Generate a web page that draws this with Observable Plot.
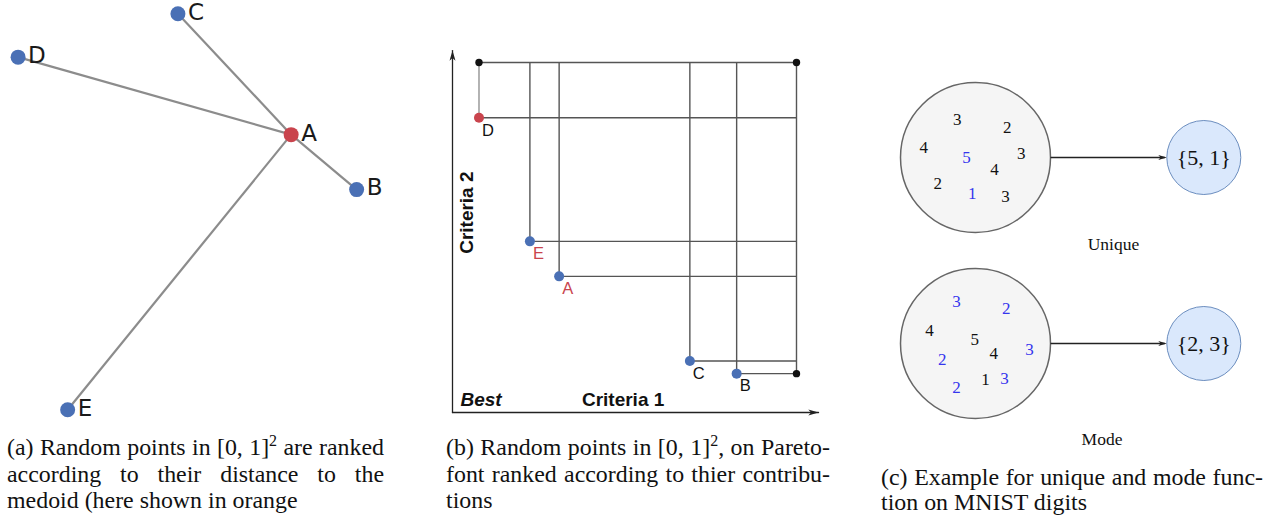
<!DOCTYPE html>
<html><head><meta charset="utf-8">
<script src="https://cdn.jsdelivr.net/npm/d3@7"></script>
<script src="https://cdn.jsdelivr.net/npm/@observablehq/plot@0.6"></script>
<style>
html,body{margin:0;padding:0;background:#fff;width:1278px;height:518px;overflow:hidden;position:relative}
.panel{position:absolute}
.cap{position:absolute;font-family:"Liberation Serif","Times New Roman",serif;font-size:23.9px;line-height:25.5px;color:#111}
.cap .j{text-align:justify;text-align-last:justify}
.cap .sup{font-size:16px;position:relative;top:-9px}
</style></head>
<body>
<div id="pa" class="panel" style="left:0;top:0"></div>
<div id="pb" class="panel" style="left:430px;top:40px"></div>
<div id="pc" class="panel" style="left:880px;top:70px"></div>
<div class="cap" style="left:7px;top:434.5px;width:377px">
  <div class="j">(a) Random points in [0, 1]<span class="sup">2</span> are ranked</div>
  <div class="j">according to their distance to the</div>
  <div>medoid (here shown in orange</div>
</div>
<div class="cap" style="left:446px;top:434.5px;width:384px">
  <div class="j">(b) Random points in [0, 1]<span class="sup">2</span>, on Pareto-</div>
  <div class="j">font ranked according to thier contribu-</div>
  <div>tions</div>
</div>
<div class="cap" style="left:881px;top:464.5px;width:382px">
  <div class="j">(c) Example for unique and mode func-</div>
  <div>tion on MNIST digits</div>
</div>
<script>
// ---------- Panel (a): points in [0,1]^2, medoid A ----------
const aNames = ["A", "B", "C", "D", "E"];
const aX = [0.772, 0.949, 0.466, 0.034, 0.168];
const aY = [0.685, 0.551, 0.980, 0.874, 0.014];
const aMedoid = "A";

// ---------- Panel (b): Pareto front, two criteria ----------
const bNames = ["D", "E", "A", "C", "B"];
const bCrit1 = [0.077, 0.225, 0.310, 0.690, 0.826];
const bCrit2 = [0.842, 0.489, 0.389, 0.147, 0.111];
const bRedDot = ["D"];
const bRedLabel = ["E", "A"];
const bAxisLabels = ["Best", "Criteria 1", "Criteria 2"];

// ---------- Panel (c): unique / mode on MNIST digits ----------
const cGroups = ["Unique", "Mode"];
const uniqueDigits = [3, 2, 4, 5, 3, 4, 2, 1, 3];
const uniqueResult = [5, 1];
const modeDigits = [3, 2, 4, 5, 4, 3, 2, 1, 3, 2];
const modeResult = [2, 3];

const BLUE = "#4a70b5", RED = "#c9444d";
const stealth = {draw(ctx, size) {
  const s = Math.sqrt(size / Math.PI);
  ctx.moveTo(0, 0); ctx.lineTo(0.5 * s, 1.7 * s); ctx.lineTo(0, 1.25 * s); ctx.lineTo(-0.5 * s, 1.7 * s); ctx.closePath();
}};

// Panel (a)
{
  const pts = aNames.map((n, i) => ({name: n, x: aX[i], y: aY[i]}));
  const m = pts.find(d => d.name === aMedoid);
  const others = pts.filter(d => d.name !== aMedoid);
  const p = Plot.plot({
    width: 400, height: 420,
    marginLeft: 5, marginRight: 25, marginTop: 5, marginBottom: 5,
    x: {domain: [0, 1], axis: null}, y: {domain: [0, 1], axis: null},
    style: {background: "transparent", overflow: "visible"},
    marks: [
      Plot.link(others, {x1: () => m.x, y1: () => m.y, x2: "x", y2: "y", stroke: "#8c8c8c", strokeWidth: 2.2}),
      Plot.dot(others, {x: "x", y: "y", r: 7.5, fill: BLUE}),
      Plot.dot([m], {x: "x", y: "y", r: 7.5, fill: RED}),
      Plot.text(pts, {x: "x", y: "y", text: "name", dx: 10, dy: -1.5, textAnchor: "start", lineAnchor: "middle",
        fontSize: 23, fontFamily: "DejaVu Sans", fill: "#1a1a1a"})
    ]
  });
  document.getElementById("pa").append(p);
}

// Panel (b)
{
  const pts = bNames.map((n, i) => ({name: n, x: bCrit1[i], y: bCrit2[i]}));
  const xmin = d3.min(bCrit1), ymin = d3.min(bCrit2);
  const frame = [{x: xmin, y: 1}, {x: 1, y: 1}, {x: 1, y: ymin}];
  const axY = [{x: 0, y: 0}, {x: 0, y: 1.034}];
  const axX = [{x: 0, y: 0}, {x: 1.064, y: 0}];
  const lab = {dx: 3, dy: 12.5, textAnchor: "start", lineAnchor: "middle", fontSize: 16.5, fontFamily: "Liberation Sans"};
  const p = Plot.plot({
    width: 400, height: 380,
    marginLeft: 22, marginRight: 34, marginTop: 22, marginBottom: 8,
    x: {domain: [0, 1], axis: null}, y: {domain: [0, 1], axis: null},
    style: {background: "transparent", overflow: "visible"},
    marks: [
      Plot.link(pts.filter(d => !bRedDot.includes(d.name)), {x1: "x", y1: "y", x2: "x", y2: 1, stroke: "#555", strokeWidth: 1.4}),
      Plot.link(pts.filter(d => bRedDot.includes(d.name)), {x1: "x", y1: "y", x2: "x", y2: 1, stroke: "#a0a0a0", strokeWidth: 1.6}),
      Plot.link(pts, {x1: "x", y1: "y", x2: 1, y2: "y", stroke: "#555", strokeWidth: 1.4}),
      Plot.line(frame, {x: "x", y: "y", stroke: "#555", strokeWidth: 1.4}),
      Plot.line(axY, {x: "x", y: "y", stroke: "#222", strokeWidth: 1.3}),
      Plot.line(axX, {x: "x", y: "y", stroke: "#222", strokeWidth: 1.3}),
      Plot.dot(axY.slice(1), {x: "x", y: "y", symbol: stealth, r: 6, fill: "#222", stroke: null}),
      Plot.dot(axX.slice(1), {x: "x", y: "y", symbol: stealth, r: 6, rotate: 90, fill: "#222", stroke: null}),
      Plot.dot(frame, {x: "x", y: "y", r: 3.7, fill: "#111"}),
      Plot.dot(pts.filter(d => !bRedDot.includes(d.name)), {x: "x", y: "y", r: 5, fill: BLUE}),
      Plot.dot(pts.filter(d => bRedDot.includes(d.name)), {x: "x", y: "y", r: 5, fill: RED}),
      Plot.text(pts.filter(d => !bRedLabel.includes(d.name)), {x: "x", y: "y", text: "name", ...lab, fill: "#111"}),
      Plot.text(pts.filter(d => bRedLabel.includes(d.name)), {x: "x", y: "y", text: "name", ...lab, fill: RED}),
      Plot.text([bAxisLabels[0]], {x: 0.023, y: 0.035, text: d => d, textAnchor: "start", lineAnchor: "middle", fontSize: 19, fontWeight: "bold", fontStyle: "italic", fontFamily: "Liberation Sans", fill: "#111"}),
      Plot.text([bAxisLabels[1]], {x: 0.496, y: 0.035, text: d => d, textAnchor: "middle", lineAnchor: "middle", fontSize: 19, fontWeight: "bold", fontFamily: "Liberation Sans", fill: "#111"}),
      Plot.text([bAxisLabels[2]], {x: 0.041, y: 0.571, text: d => d, rotate: -90, textAnchor: "middle", lineAnchor: "middle", fontSize: 19, fontWeight: "bold", fontFamily: "Liberation Sans", fill: "#111"})
    ]
  });
  document.getElementById("pb").append(p);
}

// Panel (c)
{
  const W = 398, H = 390;
  // layout (pixel frame of this panel)
  const rowY = [87, 273], bigX = 95, bigR = 75, smallX = 323.3, smallR = 37;
  const labelPos = [[233, 173.5], [221.5, 369]];
  const uniqueOff = [[-18.3, -37.7], [31.7, -30.3], [-51.7, -9.7], [-9, 0.3], [45.7, -3.7], [19, 12.3], [-37.7, 26.3], [-3.3, 36.3], [30, 39]];
  const modeOff = [[-19, -42.3], [30.7, -34.7], [-46, -13], [-0.7, -4], [18.3, 9.7], [54, 5.7], [-33.3, 15.7], [10, 36.3], [29, 35.3], [-19, 44.3]];
  const digitSets = [uniqueDigits, modeDigits], results = [uniqueResult, modeResult], offs = [uniqueOff, modeOff];
  const digits = [];
  cGroups.forEach((g, gi) => digitSets[gi].forEach((d, i) => digits.push({
    d, hl: results[gi].includes(d), x: bigX + offs[gi][i][0], y: rowY[gi] + offs[gi][i][1]
  })));
  const rows = cGroups.map((g, gi) => ({g, y: rowY[gi], res: "{" + results[gi].join(", ") + "}", lx: labelPos[gi][0], ly: labelPos[gi][1]}));
  const arrows = rows.map(r => ({x1: bigX + bigR, x2: smallX - smallR, y: r.y}));
  const p = Plot.plot({
    width: W, height: H, margin: 0,
    x: {domain: [0, W], range: [0, W], axis: null}, y: {domain: [0, H], range: [0, H], axis: null},
    style: {background: "transparent", overflow: "visible"},
    marks: [
      Plot.dot(rows, {x: () => bigX, y: "y", r: bigR, fill: "#f5f5f5", stroke: "#666", strokeWidth: 1.5}),
      Plot.dot(rows, {x: () => smallX, y: "y", r: smallR, fill: "#dae8fc", stroke: "#6c8ebf", strokeWidth: 1}),
      Plot.link(arrows, {x1: "x1", x2: d => d.x2 - 2, y1: "y", y2: "y", stroke: "#222", strokeWidth: 1.3}),
      Plot.dot(arrows, {x: "x2", y: "y", symbol: stealth, r: 5, rotate: 90, fill: "#222", stroke: null}),
      Plot.text(digits.filter(d => !d.hl), {x: "x", y: "y", text: "d", lineAnchor: "middle", fontSize: 17, fontFamily: "Liberation Serif", fill: "#111"}),
      Plot.text(digits.filter(d => d.hl), {x: "x", y: "y", text: "d", lineAnchor: "middle", fontSize: 17, fontFamily: "Liberation Serif", fill: "#3535ee"}),
      Plot.text(rows, {x: () => smallX, y: "y", text: "res", lineAnchor: "middle", fontSize: 22, fontFamily: "Liberation Serif", fill: "#111"}),
      Plot.text(rows, {x: "lx", y: "ly", text: "g", lineAnchor: "middle", fontSize: 17.5, fontFamily: "Liberation Serif", fill: "#111"})
    ]
  });
  document.getElementById("pc").append(p);
}
</script>
</body></html>
